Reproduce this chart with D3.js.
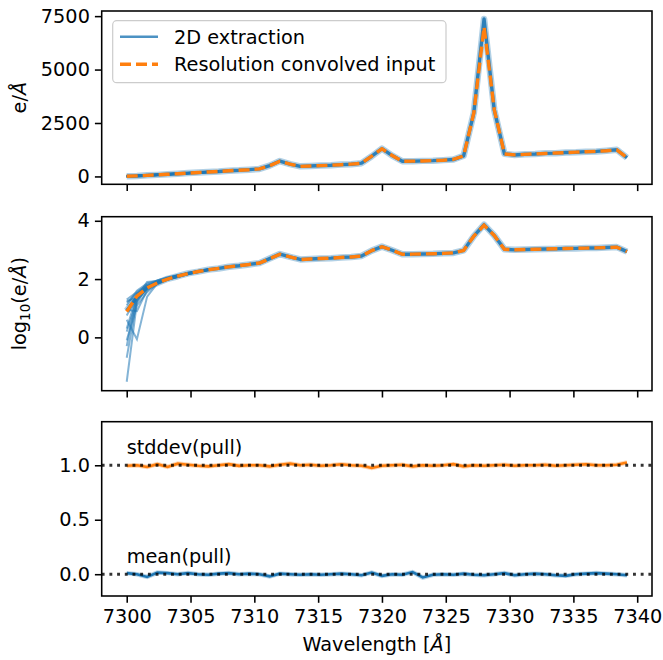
<!DOCTYPE html>
<html><head><meta charset="utf-8">
<script src="https://cdn.jsdelivr.net/npm/d3@7"></script>
<style>body{margin:0;background:#fff}svg{display:block}text{font-family:"DejaVu Sans",sans-serif}</style>
</head><body><svg id="c" width="663" height="660"></svg>
<script>
// ---------- data ----------
const wavelength=[7300.0,7300.8,7301.6,7302.4,7303.2,7304.0,7304.8,7305.6,7306.4,7307.2,7308.0,7308.8,7309.6,7310.4,7311.2,7312.0,7312.8,7313.6,7314.4,7315.2,7316.0,7316.8,7317.6,7318.4,7319.2,7320.0,7320.8,7321.6,7322.4,7323.2,7324.0,7324.8,7325.6,7326.4,7327.2,7328.0,7328.8,7329.6,7330.4,7331.2,7332.0,7332.8,7333.6,7334.4,7335.2,7336.0,7336.8,7337.6,7338.4,7339.2];
const inputFlux=[7.6,26,50,74,100,126,155,182,209,234,263,288,316,355,500,710,580,468,490,507,525,550,575,617,950,1290,980,705,716,725,741,760,795,960,2970,7000,3130,1050,1010,1030,1055,1075,1095,1115,1135,1155,1175,1200,1245,880];
const extractedFlux=[8.2,24,52,73,102,125,157,180,211,232,265,286,318,352,505,720,575,472,488,510,522,553,572,620,945,1300,975,710,713,728,738,763,790,965,2990,7370,3110,1055,1005,1035,1050,1080,1090,1120,1130,1160,1170,1205,1250,875];
// individual extractions, first ten wavelengths (7300.0 - 7307.2)
const lowEndRealizations=[
 [0.030,15.8,52.5,79.4,105,129,160,178,214,230],
 [20.0,35.5,63.1,83.2,110,132,150,188,205,238],
 [4.0,0.87,25.0,70.8,97.7,120,147,176,212,229],
 [12.6,39.8,70.8,89.1,112,126,162,185,204,240],
 [0.20,20.0,47.9,72.4,100,129,152,190,216,232],
 [2.0,28.2,56.2,79.4,95.5,123,158,175,207,236],
 [17.8,22.4,44.7,69.2,105,132,149,183,200,241],
 [0.50,31.6,60.3,75.9,102,126,163,180,213,228],
 [8.9,7.9,41.7,77.6,107,135,154,192,206,235],
 [5.6,25.1,79.4,85.1,100,117,146,179,218,231],
 [1.58,17.8,50.1,66.1,93.3,123,161,187,203,239],
 [15.8,31.6,52.5,89.1,115,138,151,174,210,244],
 [0.79,12.6,35.5,72.4,102,126,157,186,215,226]
];
const meanPull=[0.01,0.0,-0.025,0.015,0.01,0.0,0.01,0.0,-0.005,0.005,0.01,0.0,0.005,0.0,-0.02,0.005,0.0,-0.005,0.0,-0.005,0.0,0.005,0.0,-0.01,0.015,-0.015,0.0,-0.005,0.02,-0.03,-0.005,0.0,-0.005,0.005,-0.005,-0.01,0.0,0.01,-0.01,0.0,0.005,0.0,-0.01,-0.015,0.0,0.005,0.01,0.005,0.0,-0.01];
const stddevPull=[0.995,1.0,0.985,1.01,0.985,1.015,1.005,0.995,0.99,1.0,1.01,0.995,1.0,1.0,0.99,1.005,1.015,1.0,1.005,0.995,1.0,1.01,1.0,0.995,0.975,0.995,1.0,1.005,0.99,1.0,0.995,1.0,1.01,0.99,1.0,0.995,1.0,1.005,0.995,1.0,1.0,1.005,0.995,1.0,1.005,1.01,1.0,1.0,1.005,1.025];
const fluxTicks=[0,2500,5000,7500];
const logTicks=[0,2,4];
const pullTicks=[0,0.5,1.0];
const wavelengthTicks=[7300,7305,7310,7315,7320,7325,7330,7335,7340];
const legendLabels=["2D extraction","Resolution convolved input"];

// ---------- layout ----------
const FS=19.3, BLUE="#1f77b4", ORANGE="#ff7f0e";
const left=101.7, right=652;
const svg=d3.select("#c");
const x=d3.scaleLinear().domain([7298.04,7341.16]).range([left,right]);
const yTop=d3.scaleLinear().domain([-368,7740]).range([184.3,11]);
const yMid=d3.scaleLinear().domain([-1.83,4.14]).range([390.7,216.7]);
const yBot=d3.scaleLinear().domain([-0.2,1.4]).range([596,421.7]);

function clip(id,y){
  svg.append("clipPath").attr("id",id).append("rect")
    .attr("x",left).attr("y",y.range()[1]).attr("width",right-left).attr("height",y.range()[0]-y.range()[1]);
  return svg.append("g").attr("clip-path",`url(#${id})`);
}
function styleAxis(g){
  g.select(".domain").remove();
  g.selectAll("line").attr("stroke","#000").attr("stroke-width",1.56);
  g.selectAll("text").attr("font-size",FS).attr("font-family","DejaVu Sans").attr("fill","#000");
}
function frame(y,labels,tv,fmt){
  const ga=svg.append("g").attr("transform",`translate(${left},0)`)
    .call(d3.axisLeft(y).tickValues(tv).tickSize(6.8).tickPadding(5).tickFormat(fmt));
  styleAxis(ga);
  const gb=svg.append("g").attr("transform",`translate(0,${y.range()[0]})`)
    .call(d3.axisBottom(x).tickValues(wavelengthTicks).tickSize(6.8).tickPadding(6.5).tickFormat(labels?d3.format("d"):""));
  styleAxis(gb);
  svg.append("rect").attr("x",left).attr("y",y.range()[1]).attr("width",right-left)
    .attr("height",y.range()[0]-y.range()[1]).attr("fill","none").attr("stroke","#000").attr("stroke-width",1.56);
}
function drawSpectra(g,ln){
  lowEndRealizations.forEach(r=>g.append("path").attr("d",ln(r)).attr("fill","none").attr("stroke",BLUE).attr("stroke-width",2).attr("stroke-opacity",0.55));
  g.append("path").attr("d",ln(extractedFlux)).attr("fill","none").attr("stroke",BLUE).attr("stroke-width",6.5).attr("stroke-opacity",0.35).attr("stroke-linejoin","round");
  g.append("path").attr("d",ln(extractedFlux)).attr("fill","none").attr("stroke",BLUE).attr("stroke-width",3.4).attr("stroke-opacity",0.9).attr("stroke-linejoin","round");
  g.append("path").attr("d",ln(inputFlux)).attr("fill","none").attr("stroke",ORANGE).attr("stroke-width",3.4).attr("stroke-dasharray","11,5");
}

// ---------- top panel: linear flux ----------
{
  const g=clip("cTop",yTop);
  drawSpectra(g,d3.line().x((d,i)=>x(wavelength[i])).y(d=>yTop(d)));
  frame(yTop,false,fluxTicks,d3.format("d"));
  const t=svg.append("text").attr("transform",`translate(26,${(11+184.3)/2}) rotate(-90)`).attr("text-anchor","middle").attr("font-size",FS);
  t.append("tspan").text("e/");
  t.append("tspan").attr("font-style","italic").text("Å");
  // legend
  const lg=svg.append("g");
  lg.append("rect").attr("x",112.7).attr("y",20.7).attr("width",333.3).attr("height",62).attr("rx",4)
    .attr("fill","#fff").attr("fill-opacity",0.8).attr("stroke","#cccccc").attr("stroke-width",1.2);
  lg.append("line").attr("x1",120).attr("x2",158).attr("y1",36.7).attr("y2",36.7).attr("stroke",BLUE).attr("stroke-width",2.6).attr("stroke-opacity",0.8);
  lg.append("line").attr("x1",120).attr("x2",158).attr("y1",64.3).attr("y2",64.3).attr("stroke",ORANGE).attr("stroke-width",3.4).attr("stroke-dasharray","11,5");
  lg.append("text").attr("x",174).attr("y",36.7+0.36*FS).attr("font-size",FS).text(legendLabels[0]);
  lg.append("text").attr("x",174).attr("y",64.3+0.36*FS).attr("font-size",FS).text(legendLabels[1]);
}

// ---------- middle panel: log10 flux ----------
{
  const g=clip("cMid",yMid);
  drawSpectra(g,d3.line().defined(d=>d>0).x((d,i)=>x(wavelength[i])).y(d=>yMid(Math.log10(d))));
  frame(yMid,false,logTicks,d3.format("d"));
  const t=svg.append("text").attr("transform",`translate(26,${(216.7+390.7)/2}) rotate(-90)`).attr("text-anchor","middle").attr("font-size",FS);
  t.append("tspan").text("log");
  t.append("tspan").attr("font-size",FS*0.7).attr("dy",4).text("10");
  t.append("tspan").attr("dy",-4).text("(e/");
  t.append("tspan").attr("font-style","italic").text("Å");
  t.append("tspan").text(")");
}

// ---------- bottom panel: pulls ----------
{
  const g=clip("cBot",yBot);
  const ln=d3.line().x((d,i)=>x(wavelength[i])).y(d=>yBot(d));
  g.append("path").attr("d",ln(stddevPull)).attr("fill","none").attr("stroke",ORANGE).attr("stroke-width",4.5).attr("stroke-opacity",0.3);
  g.append("path").attr("d",ln(stddevPull)).attr("fill","none").attr("stroke",ORANGE).attr("stroke-width",2.6);
  g.append("path").attr("d",ln(meanPull)).attr("fill","none").attr("stroke",BLUE).attr("stroke-width",4.5).attr("stroke-opacity",0.3);
  g.append("path").attr("d",ln(meanPull)).attr("fill","none").attr("stroke",BLUE).attr("stroke-width",2.6);
  [0,1].forEach(v=>g.append("line").attr("x1",left).attr("x2",right).attr("y1",yBot(v)).attr("y2",yBot(v))
    .attr("stroke","#000").attr("stroke-opacity",0.8).attr("stroke-width",2.9).attr("stroke-dasharray","2.9,4.8"));
  svg.append("text").attr("x",x(7300)).attr("y",yBot(1.1)).attr("font-size",FS).text("stddev(pull)");
  svg.append("text").attr("x",x(7300)).attr("y",yBot(0.1)).attr("font-size",FS).text("mean(pull)");
  frame(yBot,true,pullTicks,d3.format(".1f"));
  const t=svg.append("text").attr("x",(left+right)/2).attr("y",651).attr("text-anchor","middle").attr("font-size",FS);
  t.append("tspan").text("Wavelength [");
  t.append("tspan").attr("font-style","italic").text("Å");
  t.append("tspan").text("]");
}
</script></body></html>
